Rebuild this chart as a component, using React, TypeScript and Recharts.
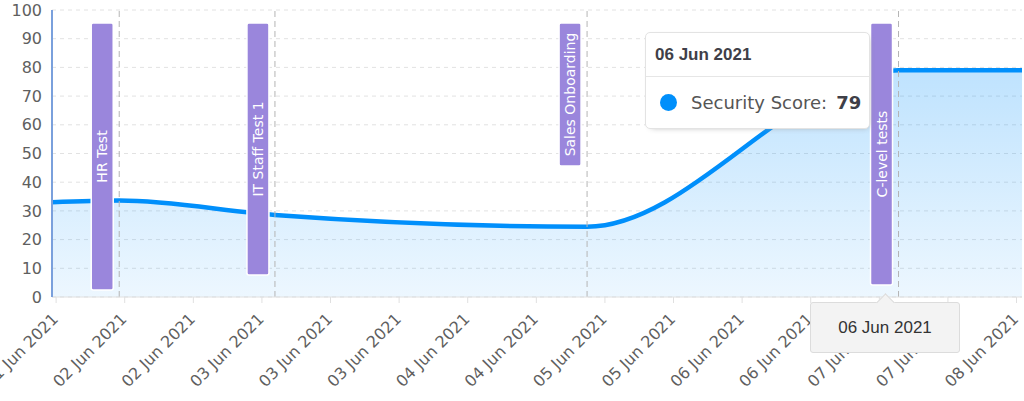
import { AreaChart, Area, XAxis, YAxis, CartesianGrid, ReferenceLine, Tooltip } from 'recharts'

// positions on the time axis, measured in tick steps from the first tick
const POINT_POS = [-0.06, 0.92, 3.19, 7.74, 12.28, 14.08]
const POINT_DATES = ['01 Jun 2021', '02 Jun 2021', '03 Jun 2021', '05 Jun 2021', '06 Jun 2021', '08 Jun 2021']
const SCORES = [33, 33.6, 28.6, 24.5, 79, 79]

const TICK_LABELS = [
  '01 Jun 2021', '02 Jun 2021', '02 Jun 2021', '03 Jun 2021', '03 Jun 2021',
  '03 Jun 2021', '04 Jun 2021', '04 Jun 2021', '05 Jun 2021', '05 Jun 2021',
  '06 Jun 2021', '06 Jun 2021', '07 Jun 2021', '07 Jun 2021', '08 Jun 2021',
]
const Y_TICKS = [0, 10, 20, 30, 40, 50, 60, 70, 80, 90, 100]

const ANNOTATION_POS = [0.92, 3.19, 7.74, 12.28]
const ANNOTATION_LABELS = ['HR Test', 'IT Staff Test 1', 'Sales Onboarding', 'C-level tests']
// pixel heights of the purple label boxes
const ANNOTATION_BOX_H = [267, 252, 143, 262]

const ACTIVE_INDEX = 4

const FONT = '"DejaVu Sans", sans-serif'
const BLUE = '#008FFB'
const PURPLE = '#9a86dc'

const data = POINT_POS.map((pos, i) => ({ pos, date: POINT_DATES[i], score: SCORES[i] }))

function XTick({ x, y, payload }: any) {
  const ax = x + 3
  const ay = y + 15
  return (
    <text
      x={ax}
      y={ay}
      transform={`rotate(-45, ${ax}, ${ay})`}
      textAnchor="end"
      fill="#5f5f5f"
      fontSize={16}
      fontFamily={FONT}
    >
      {TICK_LABELS[payload.value]}
    </text>
  )
}

function AnnotationLabel({ viewBox, text, boxH }: any) {
  const x = viewBox.x - 28
  const y = viewBox.y + 13
  const cx = x + 11
  const cy = y + boxH / 2
  return (
    <g>
      <rect x={x} y={y} width={22} height={boxH} rx={2} fill={PURPLE} stroke="#fff" strokeWidth={1.5} />
      <text
        x={cx}
        y={cy}
        transform={`rotate(-90, ${cx}, ${cy})`}
        textAnchor="middle"
        dominantBaseline="central"
        fill="#fff"
        fontSize={14}
        fontFamily={FONT}
      >
        {text}
      </text>
    </g>
  )
}

function ScoreTooltip({ payload }: any) {
  if (!payload || !payload.length) return null
  const row = payload[0].payload
  return (
    <div
      style={{
        width: 225,
        background: '#fff',
        border: '1px solid #e3e3e3',
        borderRadius: 5,
        boxShadow: '2px 2px 6px -4px #999',
        boxSizing: 'border-box',
      }}
    >
      <div
        style={{
          height: 43,
          lineHeight: '43px',
          paddingLeft: 9,
          borderBottom: '1px solid #e6e6e6',
          fontFamily: '"Liberation Sans", Arial, sans-serif',
          fontWeight: 700,
          fontSize: 17,
          color: '#3f3f48',
        }}
      >
        {row.date}
      </div>
      <div style={{ height: 51, display: 'flex', alignItems: 'center', paddingLeft: 14 }}>
        <span style={{ width: 17, height: 17, borderRadius: '50%', background: BLUE, display: 'inline-block' }} />
        <span style={{ marginLeft: 14, fontFamily: FONT, fontSize: 18, color: '#555' }}>Security Score:</span>
        <span style={{ marginLeft: 9, fontFamily: FONT, fontSize: 18, fontWeight: 700, color: '#3f3f48' }}>
          {Math.round(row.score)}
        </span>
      </div>
    </div>
  )
}

export default function App() {
  return (
    <div style={{ position: 'absolute', left: 0, top: 0, width: 1024, height: 401, background: '#fff' }}>
      <AreaChart width={1024} height={401} data={data} margin={{ top: 10, right: 2, left: 0, bottom: 0 }}>
        <defs>
          <linearGradient id="scoreFill" x1="0" y1="0" x2="0" y2="1">
            <stop offset="0%" stopColor={BLUE} stopOpacity={0.42} />
            <stop offset="100%" stopColor={BLUE} stopOpacity={0.12} />
          </linearGradient>
        </defs>
        <CartesianGrid vertical={false} stroke="#e2e2e2" strokeDasharray="4 4" />
        <XAxis
          dataKey="pos"
          type="number"
          domain={[POINT_POS[0], POINT_POS[POINT_POS.length - 1]]}
          ticks={TICK_LABELS.map((_, i) => i)}
          interval={0}
          height={104}
          axisLine={{ stroke: '#e0e0e0' }}
          tickLine={{ stroke: '#e0e0e0' }}
          tickSize={6}
          tick={<XTick />}
        />
        <YAxis
          domain={[0, 100]}
          ticks={Y_TICKS}
          width={52}
          tickLine={false}
          tickSize={0}
          tickMargin={10}
          axisLine={{ stroke: '#7aa0dc', strokeWidth: 2 }}
          tick={{ fill: '#5f5f5f', fontSize: 16, fontFamily: FONT }}
        />
        <Area
          type="monotone"
          dataKey="score"
          stroke={BLUE}
          strokeWidth={4.5}
          fill="url(#scoreFill)"
          activeDot={false}
          isAnimationActive={false}
        />
        {ANNOTATION_POS.map((pos, i) => (
          <ReferenceLine
            key={ANNOTATION_LABELS[i]}
            x={pos}
            stroke="#b5b5b5"
            strokeDasharray="6 4"
            label={<AnnotationLabel text={ANNOTATION_LABELS[i]} boxH={ANNOTATION_BOX_H[i]} />}
          />
        ))}
        <Tooltip
          active
          defaultIndex={ACTIVE_INDEX}
          cursor={false}
          position={{ x: 645, y: 32 }}
          isAnimationActive={false}
          content={<ScoreTooltip />}
        />
      </AreaChart>
      <div
        style={{
          position: 'absolute',
          left: 810,
          top: 302,
          width: 150,
          height: 51,
          background: '#f3f3f3',
          border: '1px solid #dcdcdc',
          borderRadius: 3,
          boxSizing: 'border-box',
          textAlign: 'center',
          lineHeight: '49px',
          fontFamily: '"Liberation Sans", Arial, sans-serif',
          fontSize: 17,
          color: '#333',
        }}
      >
        <div
          style={{
            position: 'absolute',
            left: 68,
            top: -7,
            width: 12,
            height: 12,
            background: '#f3f3f3',
            borderLeft: '1px solid #dcdcdc',
            borderTop: '1px solid #dcdcdc',
            transform: 'rotate(45deg)',
          }}
        />
        <span style={{ position: 'relative' }}>{POINT_DATES[ACTIVE_INDEX]}</span>
      </div>
    </div>
  )
}
